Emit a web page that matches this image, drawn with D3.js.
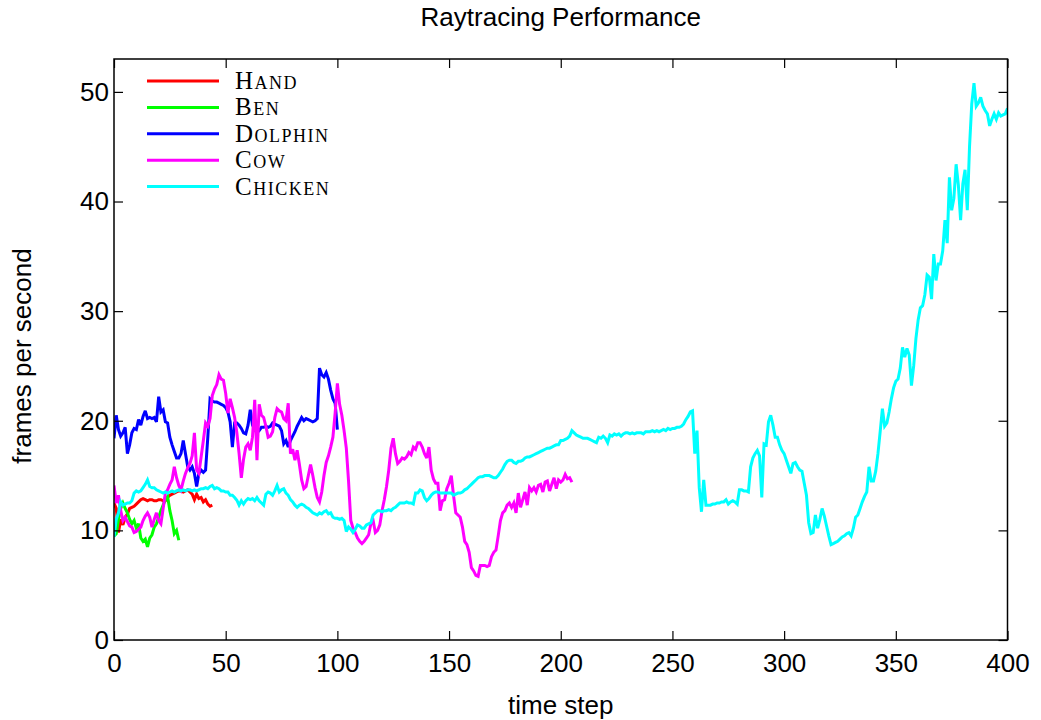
<!DOCTYPE html>
<html><head><meta charset="utf-8">
<script src="https://cdn.jsdelivr.net/npm/d3@7"></script>
<style>body{margin:0;background:#fff}</style>
</head><body><svg id="chart" width="1041" height="720"></svg>
<script>
// Series names and colours
const seriesNames = ["Hand", "Ben", "Dolphin", "Cow", "Chicken"];
const seriesColors = ["#ff0000", "#00ff00", "#0000ff", "#ff00ff", "#00ffff"];

// Frames per second at each time step (index = time step)
const hand = [12.5, 12.0, 9.8, 11.0, 10.5, 11.2, 11.5, 12.0, 12.1, 12.2, 12.4, 12.6, 12.8, 12.9, 12.8, 12.7, 12.8, 12.8, 12.7, 12.7,
  12.8, 12.8, 12.7, 12.7, 13.0, 13.2, 13.3, 13.4, 13.5, 13.6, 13.6, 13.5, 13.6, 13.7, 13.5, 13.3, 12.8, 13.3, 12.9, 13.0,
  12.6, 12.8, 12.4, 12.2, 12.3];

const ben = [9.5, 9.7, 11.0, 12.0, 12.5, 12.0, 11.6, 11.0, 10.6, 10.9, 10.2, 10.6, 9.3, 9.0, 9.2, 8.5, 9.3, 9.6, 10.3, 10.6,
  11.2, 11.8, 12.3, 12.8, 13.1, 11.8, 10.9, 9.7, 10.0, 9.1];

const dolphin = [18.4, 20.5, 19.2, 18.6, 18.9, 19.4, 17.0, 17.8, 18.9, 19.3, 19.2, 20.1, 19.6, 20.4, 20.9, 20.2, 20.3, 20.2, 20.3, 19.9,
  22.2, 20.8, 21.0, 19.9, 19.8, 18.5, 17.8, 17.2, 16.6, 16.6, 17.0, 18.2, 17.0, 15.8, 15.5, 15.8, 15.2, 14.0, 15.2, 15.5,
  15.3, 15.5, 18.5, 22.0, 21.8, 21.7, 21.7, 21.6, 21.5, 21.4, 21.2, 20.8, 19.9, 17.6, 19.8, 19.8, 19.6, 19.3, 18.9, 18.8,
  19.6, 21.0, 19.6, 19.2, 18.9, 19.1, 19.4, 19.4, 19.5, 19.4, 19.5, 19.8, 19.7, 19.6, 19.5, 19.1, 17.9, 18.2, 17.6, 18.2,
  18.6, 19.0, 19.5, 19.9, 20.3, 20.0, 20.2, 20.1, 20.0, 19.9, 20.0, 20.2, 24.8, 24.2, 24.0, 24.4, 23.8, 22.8, 22.0, 21.6,
  19.2];

const cow = [14.1, 12.5, 13.2, 11.8, 10.9, 11.2, 10.8, 10.4, 10.3, 9.8, 9.9, 10.1, 10.3, 10.9, 11.3, 11.6, 11.2, 10.3, 11.0, 11.6,
  10.9, 10.6, 12.0, 13.4, 13.7, 14.2, 14.6, 15.8, 14.8, 14.1, 13.7, 14.5, 15.2, 15.7, 16.1, 16.8, 18.9, 15.5, 15.2, 16.7,
  18.2, 19.8, 19.5, 20.2, 22.3, 22.9, 23.3, 24.2, 23.8, 23.7, 22.5, 20.7, 22.0, 21.2, 20.3, 18.9, 17.0, 14.8, 16.5, 17.6,
  17.9, 17.3, 18.5, 21.9, 16.4, 21.5, 20.5, 20.3, 19.5, 18.5, 18.6, 19.0, 20.3, 21.1, 20.9, 20.8, 20.2, 20.0, 21.6, 17.0,
  17.4, 16.4, 17.3, 16.0, 14.6, 13.8, 14.0, 15.0, 16.0, 15.0, 13.9, 13.0, 12.6, 13.5, 15.0, 16.2, 16.8, 17.6, 18.5, 20.7,
  23.4, 21.5, 20.5, 19.1, 17.5, 14.5, 10.9, 10.2, 9.8, 9.3, 9.0, 8.8, 9.0, 9.3, 9.6, 10.6, 10.9, 9.8, 10.0, 10.5,
  11.8, 12.8, 14.0, 15.5, 17.5, 18.4, 17.0, 16.1, 16.3, 16.6, 16.5, 16.7, 17.1, 16.9, 17.6, 17.4, 18.0, 18.0, 17.6, 17.0,
  16.6, 17.6, 15.5, 14.7, 14.3, 14.3, 11.8, 12.7, 12.8, 13.8, 14.3, 15.0, 13.2, 11.6, 11.4, 11.2, 10.3, 9.0, 8.7, 8.0,
  6.6, 6.3, 5.9, 5.8, 6.8, 6.8, 6.8, 6.7, 6.8, 7.6, 8.0, 8.2, 9.5, 10.9, 11.6, 11.8, 12.3, 12.5, 12.1, 12.5,
  11.6, 13.4, 12.1, 12.8, 13.5, 12.3, 13.9, 13.6, 13.9, 13.5, 14.1, 14.2, 13.5, 14.4, 14.5, 13.6, 14.2, 14.8, 13.8, 14.6,
  14.4, 14.6, 15.1, 14.7, 14.8, 14.4];

const chicken = [9.4,
  11.0, 11.6, 12.6, 12.3, 12.4, 12.5, 12.5, 12.7, 13.4, 13.6,
  13.5, 13.6, 13.9, 14.2, 14.6, 14.0, 13.9, 13.9, 13.7, 13.6,
  13.5, 13.4, 13.5, 13.4, 13.5, 13.6, 13.5, 13.6, 13.7, 13.6,
  13.7, 13.6, 13.7, 13.7, 13.6, 13.7, 13.6, 13.7, 13.8, 13.8,
  13.9, 13.8, 14.0, 14.1, 13.8, 13.9, 13.8, 13.6, 13.6, 13.5,
  13.5, 13.2, 13.2, 13.0, 12.75, 12.3, 12.7, 12.4, 12.7, 12.9,
  12.8, 12.9, 12.7, 13.0, 12.7, 12.5, 12.3, 13.3, 13.5, 13.4,
  13.2, 13.6, 14.1, 13.5, 13.7, 13.8, 13.4, 13.2, 12.8, 12.6,
  12.3, 12.1, 12.3, 12.4, 12.3, 12.1, 12.0, 11.8, 11.6, 11.5,
  11.4, 11.6, 11.5, 11.7, 11.8, 11.5, 11.6, 11.2, 11.1, 11.1,
  11.0, 11.1, 10.9, 9.9, 10.3, 10.1, 9.8, 10.1, 10.5, 10.4,
  10.2, 10.2, 10.5, 10.6, 10.7, 11.4, 11.6, 11.8, 11.8, 11.7,
  11.8, 11.8, 11.9, 11.8, 12.0, 12.1, 12.3, 12.5, 12.5, 12.5,
  12.6, 12.5, 12.5, 12.4, 13.4, 13.4, 13.7, 13.6, 13.0, 12.7,
  12.9, 13.2, 13.4, 13.5, 13.5, 13.4, 13.4, 13.4, 13.4, 13.4,
  13.4, 13.2, 13.3, 13.4, 13.4, 13.5, 13.7, 13.8, 14.0, 14.2,
  14.4, 14.6, 14.8, 14.9, 14.9, 15.0, 15.0, 15.0, 14.9, 14.8,
  14.8, 15.0, 15.3, 15.6, 16.0, 16.3, 16.4, 16.4, 16.2, 16.1,
  16.3, 16.3, 16.4, 16.6, 16.7, 16.7, 16.8, 16.9, 17.0, 17.1,
  17.2, 17.3, 17.4, 17.5, 17.5, 17.6, 17.7, 17.8, 17.8, 18.2,
  18.2, 18.3, 18.4, 18.6, 19.1, 18.9, 18.7, 18.6, 18.5, 18.4,
  18.4, 18.4, 18.3, 18.2, 18.1, 18.0, 18.5, 18.4, 18.6, 18.4,
  18.0, 18.7, 18.6, 18.8, 18.7, 18.8, 18.6, 18.8, 18.9, 18.9,
  18.8, 18.9, 18.8, 18.9, 18.9, 18.9, 18.8, 19.0, 19.0, 19.0,
  19.1, 19.0, 19.1, 19.0, 19.1, 19.2, 19.1, 19.3, 19.2,
  19.3, 19.3, 19.4, 19.4, 19.5, 19.7, 20.1,
  20.4, 20.8, 20.9, 17.0, 19.1, 13.9, 11.7, 14.6, 12.3, 12.3,
  12.3, 12.4, 12.4, 12.5, 12.5, 12.6, 12.6, 12.8, 12.4, 12.6,
  12.7, 12.6, 12.4, 13.7, 13.7, 13.6, 13.6, 13.5, 15.8, 16.6,
  17.0, 17.3, 16.8, 13.0, 17.9, 17.8, 19.9, 20.5, 19.6, 18.5,
  18.5, 17.8, 17.3, 17.0, 16.4, 15.8, 15.2, 16.1, 16.2, 15.8,
  15.5, 15.4, 14.3, 13.2, 10.7, 9.7, 9.8, 11.4, 10.2, 11.0,
  12.0, 11.3, 10.4, 9.5, 8.7, 8.8, 8.9, 9.0, 9.2, 9.4,
  9.5, 9.7, 9.8, 9.5, 10.2, 11.2, 11.4, 12.0, 12.6, 13.1,
  13.5, 15.8, 14.5, 14.5, 15.4, 17.0, 19.0, 21.1, 19.5, 19.8,
  20.8, 22.0, 23.0, 23.6, 23.8, 24.8, 26.7, 25.8, 26.6, 26.0,
  23.2, 25.0, 27.5, 29.2, 30.3, 30.5, 31.5, 33.3, 33.1, 31.1,
  35.2, 32.8, 34.3, 34.3, 35.5, 38.3, 36.2, 42.2, 39.2, 40.3,
  43.4, 41.5, 38.3, 41.6, 42.9, 39.2, 45.0, 48.9, 50.8, 48.7,
  49.0, 49.5, 48.7, 48.3, 48.0, 46.9, 47.5, 48.0, 47.5, 48.1,
  47.8, 47.9, 48.0, 48.5];

const seriesValues = [hand, ben, dolphin, cow, chicken];

const xTickValues = [0, 50, 100, 150, 200, 250, 300, 350, 400];
const yTickValues = [0, 10, 20, 30, 40, 50];
const xDomain = [0, 400];
const yDomain = [0, 53];

const titleText = "Raytracing Performance";
const xLabelText = "time step";
const yLabelText = "frames per second";

// ---- drawing ----
(function () {
const svg = d3.select("#chart");
const pLeft = 114, pRight = 1007.5, pTop = 59, pBottom = 640;
const x = d3.scaleLinear().domain(xDomain).range([pLeft, pRight]);
const y = d3.scaleLinear().domain(yDomain).range([pBottom, pTop]);
const sansFont = "'Liberation Sans', Arial, Helvetica, sans-serif";
const fs = 26;
const tickLen = 9;

svg.append("rect").attr("width", 1041).attr("height", 720).attr("fill", "#fff");

svg.append("clipPath").attr("id", "plotClip").append("rect")
  .attr("x", pLeft).attr("y", pTop).attr("width", pRight - pLeft).attr("height", pBottom - pTop);

const line = d3.line().x((d, i) => x(i)).y(d => y(d));
const gLines = svg.append("g").attr("clip-path", "url(#plotClip)");
seriesValues.forEach((vals, k) => {
  gLines.append("path")
    .datum(vals)
    .attr("d", line)
    .attr("fill", "none")
    .attr("stroke", seriesColors[k])
    .attr("stroke-width", 3)
    .attr("stroke-linejoin", "miter")
    .attr("stroke-miterlimit", 3);
});

const axStyle = g => {
  g.select(".domain").remove();
  g.selectAll(".tick line").attr("stroke", "#000").attr("stroke-width", 1.2);
};
svg.append("g").attr("transform", `translate(0,${pBottom})`)
  .call(d3.axisBottom(x).tickValues(xTickValues).tickSize(-tickLen).tickPadding(14))
  .call(axStyle)
  .call(g => g.selectAll(".tick text").attr("font-family", sansFont).attr("font-size", fs).attr("fill", "#000"));
svg.append("g").attr("transform", `translate(0,${pTop})`)
  .call(d3.axisTop(x).tickValues(xTickValues).tickSize(-tickLen).tickFormat(""))
  .call(axStyle);
svg.append("g").attr("transform", `translate(${pLeft},0)`)
  .call(d3.axisLeft(y).tickValues(yTickValues).tickSize(-tickLen).tickPadding(5))
  .call(axStyle)
  .call(g => g.selectAll(".tick text").attr("font-family", sansFont).attr("font-size", fs).attr("fill", "#000"));
svg.append("g").attr("transform", `translate(${pRight},0)`)
  .call(d3.axisRight(y).tickValues(yTickValues).tickSize(-tickLen).tickFormat(""))
  .call(axStyle);

svg.append("rect").attr("x", pLeft).attr("y", pTop).attr("width", pRight - pLeft).attr("height", pBottom - pTop)
  .attr("fill", "none").attr("stroke", "#000").attr("stroke-width", 1.5);

svg.append("text").attr("x", (pLeft + pRight) / 2).attr("y", 26).attr("text-anchor", "middle")
  .attr("font-family", sansFont).attr("font-size", fs).text(titleText);
svg.append("text").attr("x", (pLeft + pRight) / 2).attr("y", 714).attr("text-anchor", "middle")
  .attr("font-family", sansFont).attr("font-size", fs).text(xLabelText);
svg.append("text").attr("transform", `translate(31,356) rotate(-90)`).attr("text-anchor", "middle")
  .attr("font-family", sansFont).attr("font-size", fs).text(yLabelText);

const legend = svg.append("g");
seriesNames.forEach((name, k) => {
  const ly = 81 + k * 26.4;
  legend.append("line").attr("x1", 147).attr("x2", 219).attr("y1", ly).attr("y2", ly)
    .attr("stroke", seriesColors[k]).attr("stroke-width", 3);
  legend.append("text").attr("x", 235).attr("y", ly + 8)
    .attr("font-family", "'Liberation Serif', 'Times New Roman', serif")
    .attr("font-size", 25).attr("font-variant", "small-caps").attr("letter-spacing", 1.5)
    .attr("fill", "#000").text(name);
});
})();
</script>
</body></html>
